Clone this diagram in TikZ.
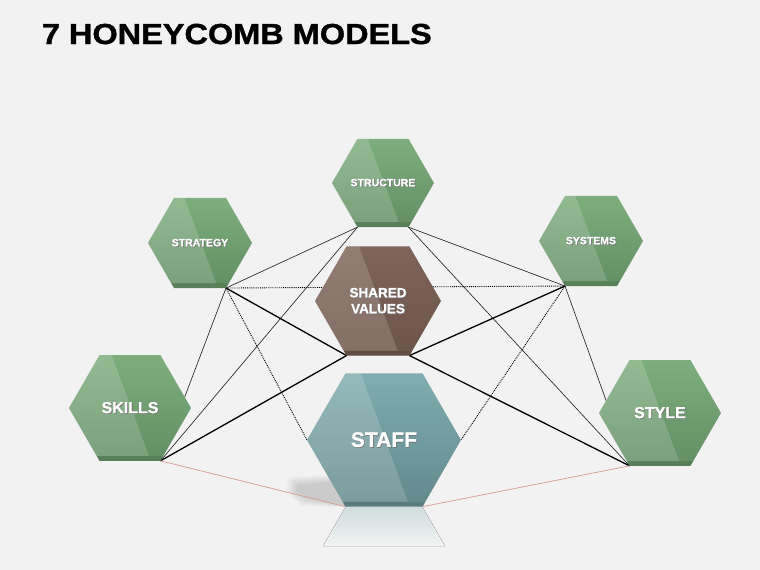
\documentclass[tikz,border=0pt]{standalone}
\usepackage{fontspec}
\setmainfont{Liberation Sans}
\newfontfamily\titlefont{Liberation Sans Bold}[FakeBold=1.2]
\newfontfamily\cellfont{Liberation Sans Bold}[FakeBold=1]
\newcommand{\embossed}[1]{\rlap{\hspace{0.7pt}\raisebox{-0.7pt}{\color{black!55}#1}}#1}
\begin{document}
\begin{tikzpicture}[x=1pt,y=-1pt]

\definecolor{bgcol}{HTML}{F2F2F2}
\definecolor{leaftop}{HTML}{7EAE7E}
\definecolor{leafbot}{HTML}{628E63}
\definecolor{barktop}{HTML}{7E6459}
\definecolor{barkbot}{HTML}{6D544A}
\definecolor{tealtop}{HTML}{80ADAF}
\definecolor{tealbot}{HTML}{62898C}
\definecolor{rustline}{HTML}{D49C8E}

\tikzstyle{link} = [draw=black!85, line width=0.65pt]
\tikzstyle{strong} = [draw=black, line width=1.3pt]
\tikzstyle{dotlink} = [draw=black, line width=0.9pt, densely dotted]
\tikzstyle{floorlink} = [draw=rustline, line width=0.7pt]
\tikzstyle{celltext} = [anchor=center, text=white, align=center, inner sep=0pt]

\newcommand{\cellpts}[4]{%
  \coordinate (#1) at (#2,#3);
  \coordinate (#1-l) at ({#2-#4},#3);
  \coordinate (#1-r) at ({#2+#4},#3);
  \coordinate (#1-bl) at ({#2-0.5*#4},{#3+0.866*#4});
  \coordinate (#1-br) at ({#2+0.5*#4},{#3+0.866*#4});
}
\newcommand{\cellfill}[4]{%
  \begin{scope}[shift={(#1)}]
    \path[top color=#3, bottom color=#4]
      (-#2,0) -- ({-0.5*#2},{-0.866*#2}) -- ({0.5*#2},{-0.866*#2})
      -- (#2,0) -- ({0.5*#2},{0.866*#2}) -- ({-0.5*#2},{0.866*#2}) -- cycle;
    \begin{scope}
      \clip (-#2,0) -- ({-0.5*#2},{-0.866*#2}) -- ({0.5*#2},{-0.866*#2})
        -- (#2,0) -- ({0.5*#2},{0.866*#2}) -- ({-0.5*#2},{0.866*#2}) -- cycle;
      \fill[white, opacity=0.16]
        ({-1.1*#2},{-0.866*#2}) -- ({-0.3*#2},{-0.866*#2})
        -- ({0.31*#2},{0.866*#2-5}) -- ({-1.1*#2},{0.866*#2-5}) -- cycle;
      \fill[black, opacity=0.1] ({-#2},{0.866*#2-5}) rectangle (#2,{0.866*#2});
    \end{scope}
  \end{scope}
}

\fill[bgcol] (0,0) rectangle (760,570);
\useasboundingbox (0,0) rectangle (760,570);

\node[anchor=base west, font=\titlefont\fontsize{29}{30}\selectfont,
  xscale=1.12, transform shape] (title) at (38,44) {7 HONEYCOMB MODELS};

\cellpts{structure}{383}{183}{51}
\cellpts{strategy}{200}{243}{52}
\cellpts{systems}{591}{241}{52}
\cellpts{shared}{378}{301}{63}
\cellpts{skills}{130}{408}{61}
\cellpts{style}{660}{413}{61}
\cellpts{staff}{384}{440}{77}

% connectors
\draw[link] (structure-bl) -- (strategy-br);
\draw[link] (structure-bl) -- (skills-br);
\draw[link] (structure-br) -- (systems-bl);
\draw[link] (structure-br) -- (style-bl);
\draw[link] (strategy-br) -- (skills-br);
\draw[link] (systems-bl) -- (style-bl);
\draw[dotlink] (strategy-br) -- (systems-bl);
\draw[dotlink] (strategy-br) -- (staff-l);
\draw[dotlink] (systems-bl) -- (staff-r);
\draw[strong] (strategy-br) -- (shared-bl);
\draw[strong] (skills-br) -- (shared-bl);
\draw[strong] (systems-bl) -- (shared-br);
\draw[strong] (style-bl) -- (shared-br);

% soft shadow and mirror under staff
\foreach \g in {0,...,7}{
  \fill[black, opacity=0.02]
    ({288+1.5*\g},{477+1.2*\g}) -- ({340-\g},{474+1.2*\g}) -- (352,507)
    -- ({300+1.5*\g},{506-1.2*\g}) -- ({286+1.5*\g},{492}) -- cycle;
}
\fill[top color=tealtop!30!bgcol, bottom color=bgcol]
  (345.5,507) -- (422.5,507) -- (445,546) -- (323,546) -- cycle;
\draw[floorlink] (skills-br) -- (staff-bl);
\draw[floorlink] (staff-br) -- (style-bl);

\cellfill{structure}{51}{leaftop}{leafbot}
\cellfill{strategy}{52}{leaftop}{leafbot}
\cellfill{systems}{52}{leaftop}{leafbot}
\cellfill{shared}{63}{barktop}{barkbot}
\cellfill{skills}{61}{leaftop}{leafbot}
\cellfill{style}{61}{leaftop}{leafbot}
\cellfill{staff}{77}{tealtop}{tealbot}

\node[celltext, font=\cellfont\fontsize{10.5}{13}\selectfont] (structure-label) at (structure) {\embossed{STRUCTURE}};
\node[celltext, font=\cellfont\fontsize{10.5}{13}\selectfont] (strategy-label) at (strategy) {\embossed{STRATEGY}};
\node[celltext, font=\cellfont\fontsize{10.5}{13}\selectfont] (systems-label) at (systems) {\embossed{SYSTEMS}};
\node[celltext, font=\cellfont\fontsize{13.5}{16}\selectfont] (shared-label) at (shared) {\embossed{SHARED}\\\embossed{VALUES}};
\node[celltext, font=\cellfont\fontsize{16}{18}\selectfont] (skills-label) at (skills) {\embossed{SKILLS}};
\node[celltext, font=\cellfont\fontsize{16}{18}\selectfont] (style-label) at (style) {\embossed{STYLE}};
\node[celltext, font=\cellfont\fontsize{21}{24}\selectfont] (staff-label) at (staff) {\embossed{STAFF}};

\end{tikzpicture}
\end{document}
